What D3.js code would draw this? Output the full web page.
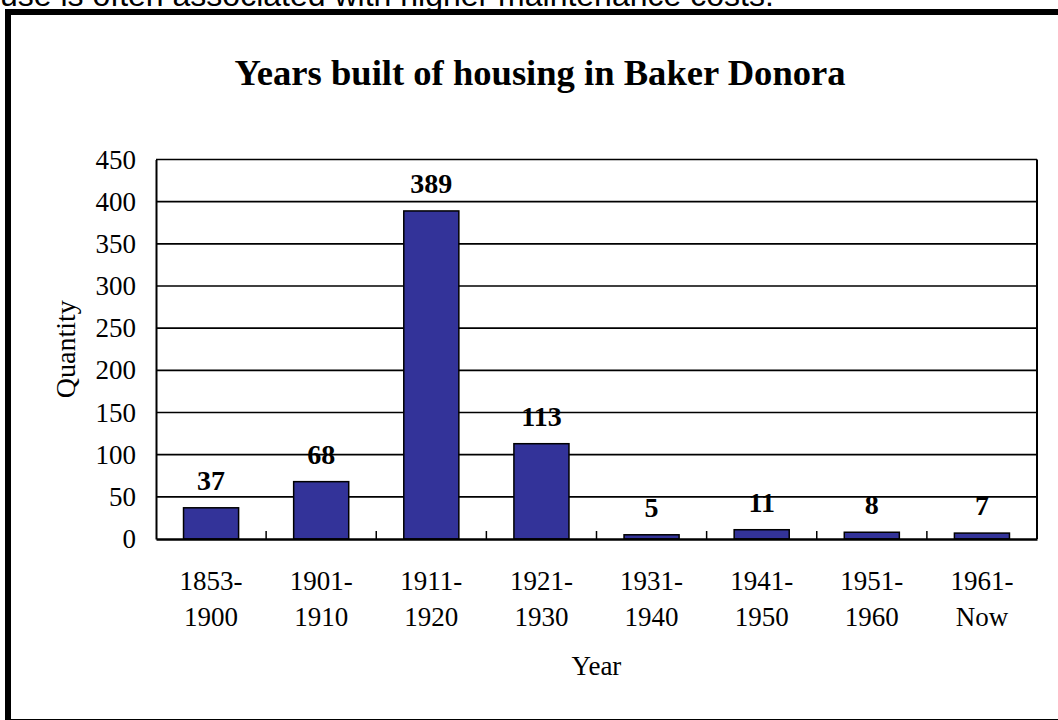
<!DOCTYPE html>
<html>
<head>
<meta charset="utf-8">
<script src="https://cdn.jsdelivr.net/npm/d3@7"></script>
<style>
  body { margin: 0; background: #fff; overflow: hidden; }
  svg { display: block; }
  text { font-family: "Liberation Serif", "Times New Roman", serif; fill: #000; }
</style>
</head>
<body>
<div id="vis-svg"></div>
<script>
var width = 1058;
var height = 720;

// data
var periodStart = ["1853-", "1901-", "1911-", "1921-", "1931-", "1941-", "1951-", "1961-"];
var periodEnd = ["1900", "1910", "1920", "1930", "1940", "1950", "1960", "Now"];
var quantity = [37, 68, 389, 113, 5, 11, 8, 7];
var yTicks = [0, 50, 100, 150, 200, 250, 300, 350, 400, 450];

var categories = periodStart.map(function(s, i) { return s + periodEnd[i]; });

var plot = { left: 156, right: 1037, top: 159.5, bottom: 539 };

var svg = d3
  .select("#vis-svg")
  .append("svg")
  .attr("width", width)
  .attr("height", height);

// clipped line of the surrounding document text
svg.append("text")
  .attr("x", 0)
  .attr("y", 6)
  .style("font-family", "'Liberation Sans', Arial, sans-serif")
  .style("font-size", "32px")
  .text("use is often associated with higher maintenance costs.");

// outer frame of the chart
svg.append("rect")
  .attr("x", 8)
  .attr("y", 12)
  .attr("width", 1100)
  .attr("height", 710)
  .attr("fill", "none")
  .attr("stroke", "#000")
  .attr("stroke-width", 6);

var x = d3.scaleBand()
  .domain(categories)
  .range([plot.left, plot.right])
  .paddingInner(0.5)
  .paddingOuter(0.25);

var y = d3.scaleLinear()
  .domain([0, 450])
  .range([plot.bottom, plot.top]);

// gridlines
svg.append("g")
  .selectAll("line")
  .data(yTicks.slice(1))
  .enter()
  .append("line")
  .attr("x1", plot.left)
  .attr("x2", plot.right)
  .attr("y1", function(d) { return y(d); })
  .attr("y2", function(d) { return y(d); })
  .attr("stroke", "#000")
  .attr("stroke-width", 1.6);

// right border of plot area
svg.append("line")
  .attr("x1", plot.right).attr("x2", plot.right)
  .attr("y1", plot.top).attr("y2", plot.bottom)
  .attr("stroke", "#000").attr("stroke-width", 2);

// bars
svg.append("g")
  .selectAll("rect")
  .data(quantity)
  .enter()
  .append("rect")
  .attr("x", function(d, i) { return x(categories[i]); })
  .attr("y", function(d) { return y(d); })
  .attr("width", x.bandwidth())
  .attr("height", function(d) { return y(0) - y(d); })
  .attr("fill", "#333399")
  .attr("stroke", "#000")
  .attr("stroke-width", 1.5);

// data labels
svg.append("g")
  .selectAll("text")
  .data(quantity)
  .enter()
  .append("text")
  .attr("x", function(d, i) { return x(categories[i]) + x.bandwidth() / 2; })
  .attr("y", function(d) { return y(d) - 18; })
  .attr("text-anchor", "middle")
  .style("font-size", "28px")
  .style("font-weight", "bold")
  .text(function(d) { return d; });

// y axis
var yAxis = svg.append("g")
  .attr("transform", "translate(" + plot.left + ",0)")
  .call(d3.axisLeft(y).tickValues(yTicks).tickSize(0).tickPadding(20));
yAxis.select(".domain").attr("stroke", "#000").attr("stroke-width", 2);
yAxis.selectAll("text")
  .style("font-family", "'Liberation Serif', 'Times New Roman', serif")
  .style("font-size", "27px")
  .attr("fill", "#000");

// x axis
var xAxis = svg.append("g")
  .attr("transform", "translate(0," + plot.bottom + ")")
  .call(d3.axisBottom(x).tickSize(0).tickFormat(""));
xAxis.select(".domain").attr("stroke", "#000").attr("stroke-width", 2.5);

// inner tick marks between categories
var step = x.step();
svg.append("g")
  .selectAll("line")
  .data(categories.slice(1))
  .enter()
  .append("line")
  .attr("x1", function(d) { return x(d) - step * x.paddingInner() / 2; })
  .attr("x2", function(d) { return x(d) - step * x.paddingInner() / 2; })
  .attr("y1", plot.bottom)
  .attr("y2", plot.bottom - 8)
  .attr("stroke", "#000")
  .attr("stroke-width", 1.5);

// category labels on two lines
var catLabels = svg.append("g")
  .selectAll("text")
  .data(categories)
  .enter()
  .append("text")
  .attr("text-anchor", "middle")
  .style("font-size", "27px");
catLabels.append("tspan")
  .attr("x", function(d) { return x(d) + x.bandwidth() / 2; })
  .attr("y", 590)
  .text(function(d, i) { return periodStart[i]; });
catLabels.append("tspan")
  .attr("x", function(d) { return x(d) + x.bandwidth() / 2; })
  .attr("y", 626)
  .text(function(d, i) { return periodEnd[i]; });

// titles
svg.append("text")
  .attr("x", 540)
  .attr("y", 85)
  .attr("text-anchor", "middle")
  .style("font-size", "36.6px")
  .style("font-weight", "bold")
  .text("Years built of housing in Baker Donora");

svg.append("text")
  .attr("x", (plot.left + plot.right) / 2)
  .attr("y", 675)
  .attr("text-anchor", "middle")
  .style("font-size", "27px")
  .text("Year");

svg.append("text")
  .attr("transform", "translate(75," + ((plot.top + plot.bottom) / 2) + ") rotate(-90)")
  .attr("text-anchor", "middle")
  .style("font-size", "28px")
  .text("Quantity");
</script>
</body>
</html>
